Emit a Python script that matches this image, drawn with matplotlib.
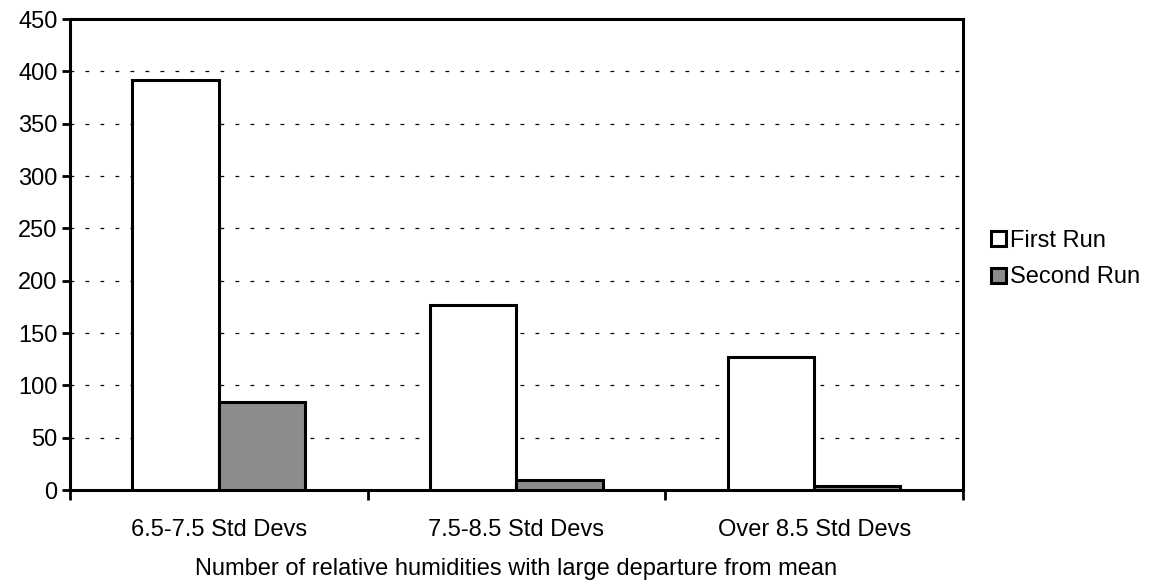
import matplotlib.pyplot as plt
import numpy as np

plt.rcParams['font.family'] = ['Liberation Sans', 'DejaVu Sans']

categories = ['6.5-7.5 Std Devs', '7.5-8.5 Std Devs', 'Over 8.5 Std Devs']
first_run = [392, 177, 127]
second_run = [84, 10, 4]
series_names = ['First Run', 'Second Run']

fs = 17

fig = plt.figure(figsize=(11.58, 5.81), dpi=100)
ax = fig.add_axes([0.0604, 0.1566, 0.7712, 0.8104])

x = np.arange(len(categories))
w = 0.29
ax.bar(x - w / 2, first_run, w, color='white', edgecolor='black', linewidth=2.2,
       label=series_names[0], zorder=3)
ax.bar(x + w / 2, second_run, w, color='#8c8c8c', edgecolor='black', linewidth=2.2,
       label=series_names[1], zorder=3)

ax.set_xlim(-0.5, len(categories) - 0.5)
ax.set_ylim(0, 450)
ax.set_yticks(np.arange(0, 451, 50))
ax.yaxis.grid(True, linestyle=(0, (3, 9)), color='black', linewidth=0.9)
ax.set_axisbelow(True)

# category boundaries carry the x ticks, labels sit between them
ax.set_xticks(np.arange(-0.5, len(categories), 1.0))
ax.set_xticklabels([])
ax.set_xticks(x, minor=True)
ax.set_xticklabels(categories, minor=True, fontsize=fs)
ax.tick_params(axis='x', which='minor', length=0, pad=21)
ax.tick_params(axis='x', which='major', length=7, width=2, direction='out')
ax.tick_params(axis='y', length=6, width=2, direction='out', labelsize=fs, pad=3)

for s in ax.spines.values():
    s.set_linewidth(2.2)
    s.set_color('black')

ax.set_xlabel('Number of relative humidities with large departure from mean',
              fontsize=fs, labelpad=12)

ax.legend(loc='center left', bbox_to_anchor=(1.008, 0.49), frameon=False,
          fontsize=fs, handlelength=0.6, handleheight=0.6, handletextpad=0.2,
          labelspacing=0.6)

fig.savefig('out.png', dpi=100)
